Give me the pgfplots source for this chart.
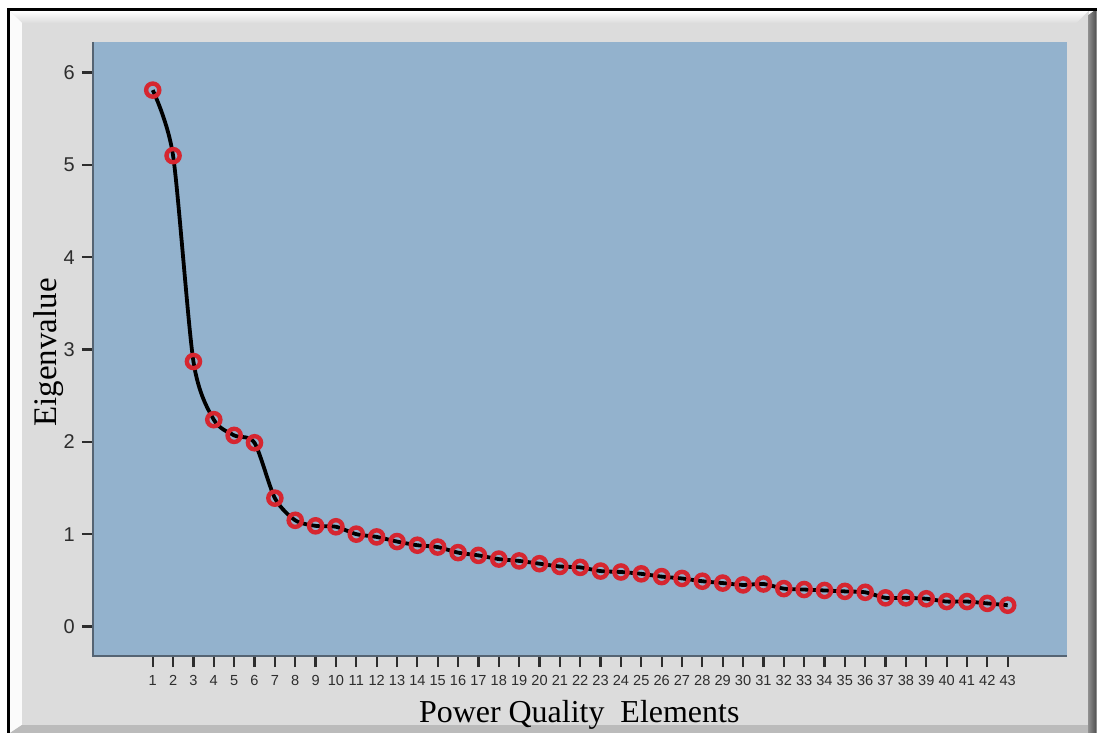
\documentclass[border=0pt]{standalone}
\usepackage{pgfplots}
\pgfplotsset{compat=1.18}
\usepackage{fontspec}
\setmainfont{Liberation Serif}
\newfontfamily\ticksf{Liberation Sans}

\definecolor{plotbg}{RGB}{147,178,205}
\definecolor{panelgray}{RGB}{220,220,220}
\definecolor{axisln}{RGB}{85,100,115}
\definecolor{markred}{RGB}{214,38,48}
\definecolor{ticktxt}{RGB}{45,45,45}

\begin{document}
\begin{tikzpicture}[x=0.5pt,y=0.5pt]
% frame and bevelled panel (pixel units, y measured from the bottom)
\fill[white] (0,0) rectangle (1098,734);
\fill[panelgray] (10,723) rectangle (1090,0);
\shade[top color=white, bottom color=panelgray] (10,723) -- (1090,723) -- (1078,711) -- (22,711) -- cycle;
\fill[white!90!panelgray] (10,723) -- (22,711) -- (22,8) -- (10,0) -- cycle;
\fill[panelgray!85!black] (22,8) -- (1090,8) -- (1090,0) -- (10,0) -- cycle;
\shade[left color=gray!90, right color=black!70] (1090,719) -- (1098,725) -- (1098,0) -- (1090,0) -- cycle;
\draw[line width=1.5pt] (8.5,0) -- (8.5,724.5) -- (1098,724.5);

\begin{axis}[
    at={(46.5pt,38.5pt)}, anchor=south west,
    scale only axis,
    width=487.5pt, height=307.5pt,
    xmin=-1.94, xmax=45.89,
    ymin=-0.321, ymax=6.332,
    xtick={1,...,43}, ytick={0,...,6},
    tick pos=left, tick align=outside,
    major tick length=5.5pt,
    every tick/.style={ticktxt, line width=1.1pt},
    axis line style={draw=none},
    axis background/.style={fill=plotbg},
    xticklabel style={font=\ticksf\fontsize{7.3}{8}\selectfont, text=ticktxt, yshift=-0.5pt},
    yticklabel style={font=\ticksf\fontsize{10}{12}\selectfont, text=ticktxt},
    /pgf/number format/assume math mode=true,
    clip=false,
    ]
    \draw[axisln, line width=1pt] (rel axis cs:0,1) -- (rel axis cs:0,0) -- (rel axis cs:1,0);
    \addplot[black, line width=1.9pt, smooth, tension=0.45,
        mark=o, mark size=3.3pt,
        mark options={draw=markred, line width=2.2pt, solid}] coordinates {
    (1,5.81) (2,5.10) (3,2.87) (4,2.24) (5,2.07) (6,1.99) (7,1.39)
    (8,1.15) (9,1.09) (10,1.08) (11,1.00) (12,0.97) (13,0.92) (14,0.88)
    (15,0.86) (16,0.80) (17,0.77) (18,0.73) (19,0.71) (20,0.68) (21,0.65)
    (22,0.64) (23,0.60) (24,0.59) (25,0.57) (26,0.54) (27,0.52) (28,0.49)
    (29,0.47) (30,0.45) (31,0.46) (32,0.41) (33,0.40) (34,0.39) (35,0.38)
    (36,0.37) (37,0.31) (38,0.31) (39,0.30) (40,0.27) (41,0.27) (42,0.25)
    (43,0.23)
    };
\end{axis}

\node[rotate=90, anchor=base, font=\fontsize{16.5}{18}\selectfont] at (57,381) {Eigenvalue};
\node[anchor=base, font=\fontsize{16}{18}\selectfont] at (580,11) {Power Quality\ \ Elements};
\end{tikzpicture}
\end{document}
